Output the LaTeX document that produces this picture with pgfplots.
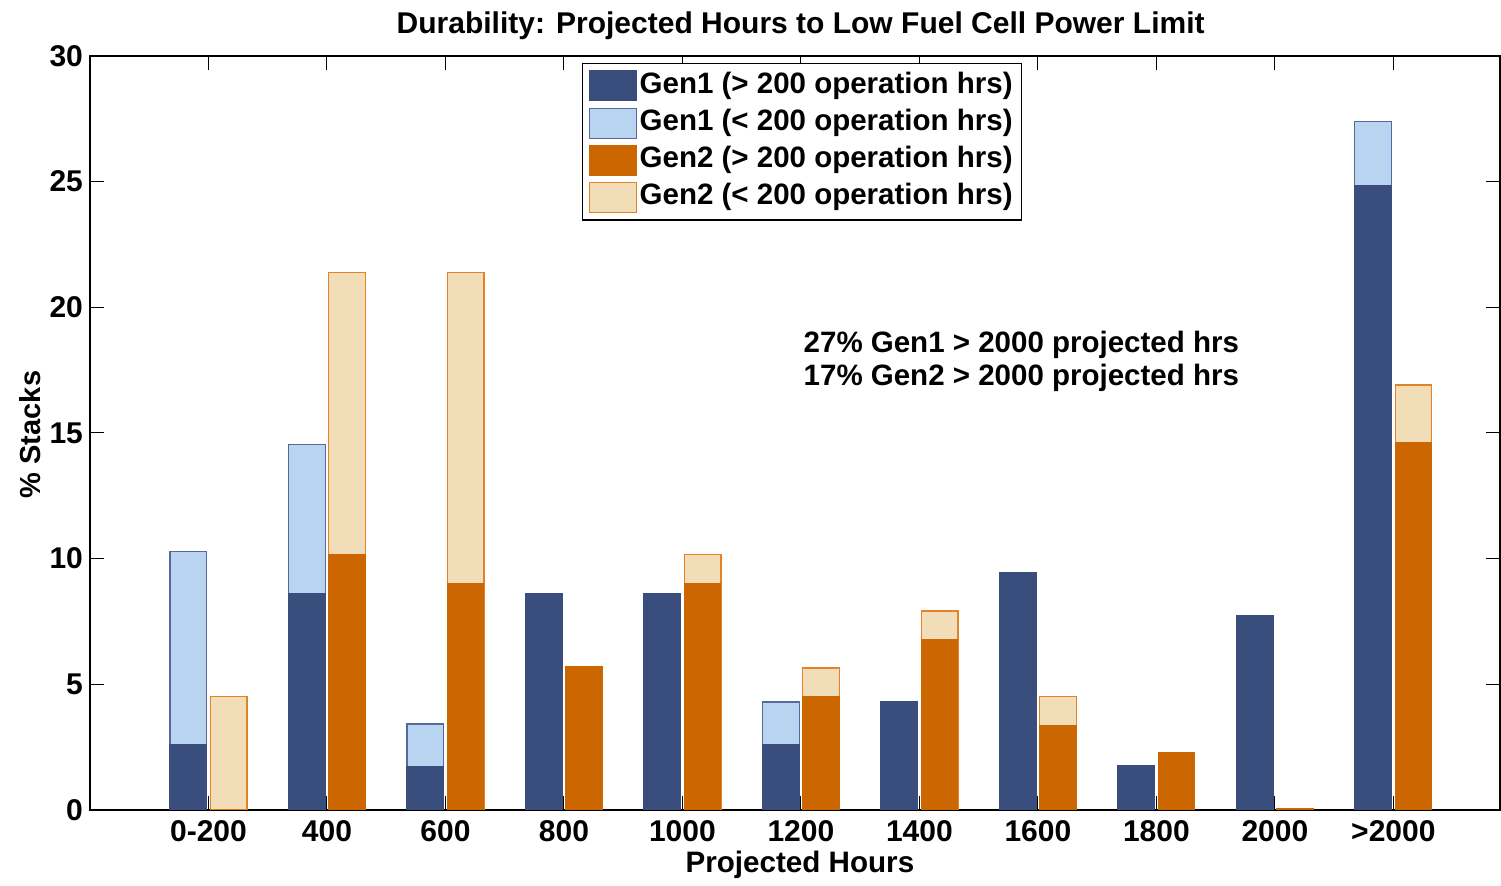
\documentclass[border=0pt]{standalone}
\usepackage{pgfplots}
\usepackage{pgfplotstable}
\pgfplotsset{compat=1.18}
\usepackage{fontspec}
\setmainfont{Liberation Sans}
\definecolor{gaDark}{RGB}{58,78,126}
\definecolor{gaLight}{RGB}{185,212,241}
\definecolor{gaEdge}{RGB}{85,105,155}
\definecolor{gbDark}{RGB}{204,102,0}
\definecolor{gbLight}{RGB}{242,221,185}
\definecolor{gbEdge}{RGB}{228,130,40}

\pgfplotstableread{
x  g1d   g1t   g2d   g2t
0  2.60  10.30 0.00  4.50
1  8.60  14.55 10.15 21.40
2  1.72  3.42  9.00  21.40
3  8.60  8.60  5.70  5.70
4  8.60  8.60  9.00  10.15
5  2.60  4.30  4.50  5.65
6  4.30  4.30  6.78  7.92
7  9.43  9.43  3.38  4.50
8  1.75  1.75  2.30  2.30
9  7.72  7.72  0.05  0.05
10 24.83 27.38 14.64 16.91
}\data

\begin{document}
\begin{tikzpicture}
\begin{axis}[
  scale only axis,
  width=705pt, height=377pt,
  xmin=-1, xmax=10.9, ymin=0, ymax=30,
  xtick={0,1,2,3,4,5,6,7,8,9,10},
  xticklabels={0-200,400,600,800,1000,1200,1400,1600,1800,2000,>2000},
  ytick={0,5,10,15,20,25,30},
  tick align=inside,
  major tick length=7pt,
  tick style={black, line width=0.5pt},
  axis line style={black, line width=0.8pt},
  /pgf/number format/assume math mode=true,
  ticklabel style={font=\fontsize{15}{18}\selectfont\bfseries},
  xticklabel style={yshift=-2pt},
  title={Durability: Projected Hours to Low Fuel Cell Power Limit},
  title style={at={(axis description cs:0.504,1.0135)}, anchor=base, font=\fontsize{15}{18}\selectfont\bfseries},
  xlabel={Projected Hours},
  xlabel style={at={(axis description cs:0.5035,-0.0835)}, anchor=base, font=\fontsize{14.8}{17}\selectfont\bfseries},
  ylabel={\% Stacks},
  ylabel style={at={(axis description cs:-0.0348,0.498)}, anchor=base, font=\fontsize{14.5}{17}\selectfont\bfseries},
  legend style={at={(axis description cs:0.349,0.991)}, anchor=north west,
    draw=black, line width=0.6pt, inner xsep=3pt, inner ysep=3pt,
    font=\fontsize{14.75}{17}\selectfont\bfseries, row sep=2.1pt,
    nodes={inner sep=1.5pt, text height=10.5pt, text depth=3pt}},
  legend cell align=left,
]
\addlegendimage{legend image code/.code={\filldraw[fill=gaDark,draw=gaDark,line width=0.5pt] (0pt,-7.5pt) rectangle (23.5pt,7.5pt);}}
\addlegendentry{Gen1 (> 200 operation hrs)}
\addlegendimage{legend image code/.code={\filldraw[fill=gaLight,draw=gaEdge,line width=0.5pt] (0pt,-7.5pt) rectangle (23.5pt,7.5pt);}}
\addlegendentry{Gen1 (< 200 operation hrs)}
\addlegendimage{legend image code/.code={\filldraw[fill=gbDark,draw=gbDark,line width=0.5pt] (0pt,-7.5pt) rectangle (23.5pt,7.5pt);}}
\addlegendentry{Gen2 (> 200 operation hrs)}
\addlegendimage{legend image code/.code={\filldraw[fill=gbLight,draw=gbEdge,line width=0.5pt] (0pt,-7.5pt) rectangle (23.5pt,7.5pt);}}
\addlegendentry{Gen2 (< 200 operation hrs)}

\addplot[ybar, bar width=0.31, bar shift=-0.17, fill=gaLight, draw=gaEdge, line width=0.6pt, forget plot] table[x=x, y=g1t] {\data};
\addplot[ybar, bar width=0.31, bar shift=-0.17, fill=gaDark, draw=gaDark, line width=0.5pt, forget plot] table[x=x, y=g1d] {\data};
\addplot[ybar, bar width=0.31, bar shift=0.17, fill=gbLight, draw=gbEdge, line width=0.6pt, forget plot] table[x=x, y=g2t] {\data};
\addplot[ybar, bar width=0.31, bar shift=0.17, fill=gbDark, draw=gbDark, line width=0.5pt, forget plot] table[x=x, y=g2d] {\data};

\node[anchor=base west, font=\fontsize{14.75}{17}\selectfont\bfseries, inner sep=0pt] at (axis cs:5.02,18.22) {27\% Gen1 > 2000 projected hrs};
\node[anchor=base west, font=\fontsize{14.75}{17}\selectfont\bfseries, inner sep=0pt] at (axis cs:5.02,16.87) {17\% Gen2 > 2000 projected hrs};
\coordinate (O) at (rel axis cs:0,0);
\coordinate (T) at (rel axis cs:1,1);
\end{axis}
\path ([xshift=-45pt,yshift=-34pt]O) rectangle ([xshift=0.5pt,yshift=28pt]T);
\end{tikzpicture}
\end{document}
